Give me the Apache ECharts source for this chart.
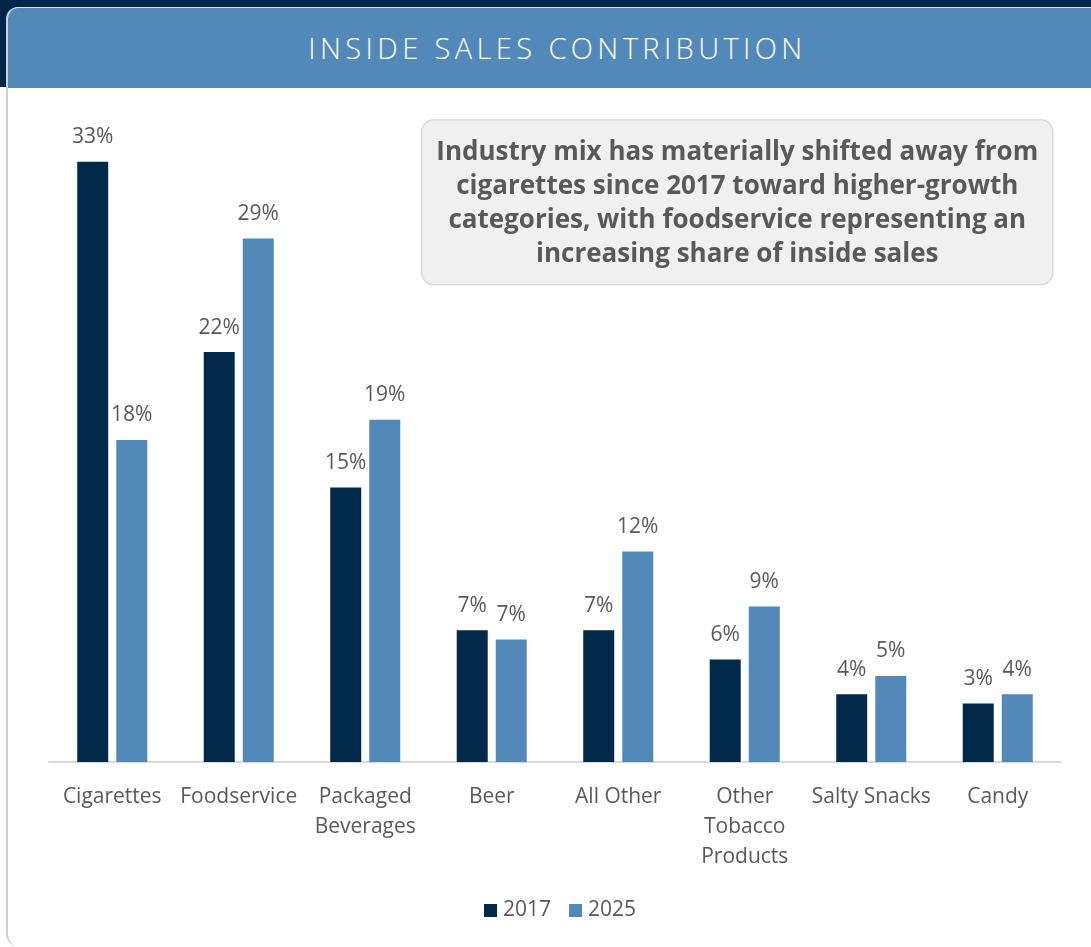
<!DOCTYPE html>
<html>
<head>
<meta charset="utf-8">
<script src="https://cdn.jsdelivr.net/npm/echarts@6/dist/echarts.min.js"></script>
<style>
  html, body { margin: 0; padding: 0; width: 1091px; height: 947px; overflow: hidden; background: #ffffff; }
  #band { position: absolute; left: 0; top: 0; width: 1091px; height: 87px; background: #00264a; }
  #card { position: absolute; left: 6px; top: 7px; width: 1110px; height: 939px; background: #ffffff;
          border-radius: 12px; border-left: 2px solid #cfcfcf; border-top: 1px solid #dfe7ef; box-sizing: border-box; overflow: hidden; }
  #header { height: 80px; background: #5389b8; color: #ffffff; font-family: "Open Sans", sans-serif; font-weight: 300;
            font-size: 29px; letter-spacing: 4.4px; line-height: 80px; text-align: center; width: 1099px; }
  #chart { position: absolute; left: 0; top: 0; width: 1091px; height: 947px; }
</style>
</head>
<body>
<div id="band"></div>
<div id="card"><div id="header">INSIDE SALES CONTRIBUTION</div></div>
<div id="chart"></div>
<script>
// Share of inside sales by category (%)
const categories = ['Cigarettes', 'Foodservice', 'Packaged\nBeverages', 'Beer', 'All Other', 'Other\nTobacco\nProducts', 'Salty Snacks', 'Candy'];
const seriesNames = ['2017', '2025'];
const values2017 = [32.8, 22.4, 15.0, 7.2, 7.2, 5.6, 3.7, 3.2];
const values2025 = [17.6, 28.6, 18.7, 6.7, 11.5, 8.5, 4.7, 3.7];
const calloutText = 'Industry mix has materially shifted away from\ncigarettes since 2017 toward higher-growth\ncategories, with foodservice representing an\nincreasing share of inside sales';

const labelColor = '#595959';
const fontFamily = '"Open Sans", sans-serif';

const chart = echarts.init(document.getElementById('chart'), null, { renderer: 'canvas' });

const barLabel = {
  show: true,
  position: 'top',
  distance: 14,
  color: labelColor,
  fontSize: 21,
  fontFamily: fontFamily,
  formatter: p => Math.round(p.value) + '%'
};

chart.setOption({
  backgroundColor: 'transparent',
  animation: false,
  grid: { left: 49, right: 30, top: 121.5, bottom: 185, containLabel: false },
  legend: {
    data: seriesNames,
    bottom: 26,
    left: 484,
    padding: 0,
    itemWidth: 13,
    itemHeight: 13,
    itemGap: 18,
    icon: 'rect',
    textStyle: { color: labelColor, fontSize: 21, fontFamily: fontFamily, padding: [0, 0, 0, 1] }
  },
  xAxis: {
    type: 'category',
    data: categories,
    axisLine: { show: true, lineStyle: { color: '#d9d9d9', width: 2 } },
    axisTick: { show: false },
    axisLabel: {
      color: labelColor,
      fontSize: 21,
      fontFamily: fontFamily,
      lineHeight: 30,
      margin: 20,
      interval: 0,
      verticalAlign: 'top'
    }
  },
  yAxis: {
    type: 'value',
    min: 0,
    max: 35,
    show: false,
    splitLine: { show: false }
  },
  series: [
    { name: seriesNames[0], type: 'bar', data: values2017, barWidth: 31, barGap: '26%',
      itemStyle: { color: '#012a4a' }, label: barLabel },
    { name: seriesNames[1], type: 'bar', data: values2025, barWidth: 31, barGap: '26%',
      itemStyle: { color: '#5389b8' }, label: barLabel }
  ],
  graphic: [
    {
      type: 'group',
      left: 421,
      top: 119,
      children: [
        { type: 'rect', shape: { x: 0, y: 0, width: 631, height: 165, r: 12 },
          style: { fill: '#f0f0f0', stroke: '#d9d9d9', lineWidth: 1.5 } },
        { type: 'text', x: 315.5, y: 84,
          style: { text: calloutText, fill: '#595959', font: 'bold 26px ' + fontFamily,
                   align: 'center', verticalAlign: 'middle', lineHeight: 34 } }
      ]
    }
  ]
});
</script>
</body>
</html>
